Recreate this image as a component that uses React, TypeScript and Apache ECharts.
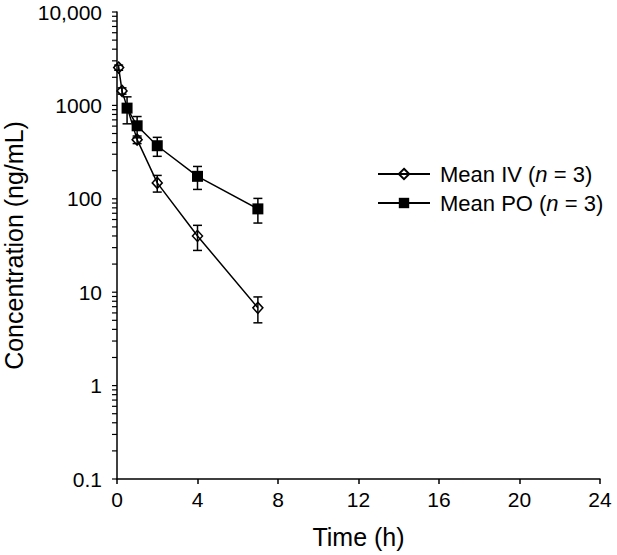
import React, { useEffect, useRef } from "react";
import * as echarts from "echarts";

const timesIV = [0.083, 0.25, 1, 2, 4, 7];
const meanIV = [2540, 1430, 430, 148, 40, 6.8];
const sdIV = [160, 110, 40, 30, 12, 2.1];

const timesPO = [0.5, 1, 2, 4, 7];
const meanPO = [935, 605, 370, 174, 78];
const sdPO = [300, 155, 85, 48, 23];

const xTicks = [0, 4, 8, 12, 16, 20, 24];
const yDecades = [0.1, 1, 10, 100, 1000];
const yMantissas = [1, 2, 3, 4, 5, 6, 7, 8, 9];
const yTopTick = 10000;
const yLabels: Record<string, string> = {
  "0.1": "0.1",
  "1": "1",
  "10": "10",
  "100": "100",
  "1000": "1000",
  "10000": "10,000",
};

const nameIV = "Mean IV (n = 3)";
const namePO = "Mean PO (n = 3)";
const FONT = "'Liberation Sans', Arial, sans-serif";

export default function App() {
  const ref = useRef<HTMLDivElement>(null);
  useEffect(() => {
    if (!ref.current) return;
    const chart = echarts.init(ref.current, undefined, { renderer: "svg" });

    const yTickValues: number[] = [];
    yDecades.forEach((d) => yMantissas.forEach((m) => yTickValues.push(+(d * m).toPrecision(3))));
    yTickValues.push(yTopTick);

    const errData = (t: number[], m: number[], s: number[]) =>
      t.map((x, i) => [x, m[i] - s[i], m[i] + s[i]]);

    const errRender = (params: any, api: any) => {
      const x = api.value(0);
      const lo = api.coord([x, api.value(1)]);
      const hi = api.coord([x, api.value(2)]);
      const w = 4.5;
      const st = { stroke: "#000", lineWidth: 1.5 };
      return {
        type: "group",
        children: [
          { type: "line", shape: { x1: lo[0], y1: lo[1], x2: hi[0], y2: hi[1] }, style: st },
          { type: "line", shape: { x1: lo[0] - w, y1: lo[1], x2: lo[0] + w, y2: lo[1] }, style: st },
          { type: "line", shape: { x1: hi[0] - w, y1: hi[1], x2: hi[0] + w, y2: hi[1] }, style: st },
        ],
      };
    };

    const richFmt = (name: string) => name.replace("(n", "({i|n}");

    chart.setOption({
      animation: false,
      backgroundColor: "#fff",
      textStyle: { fontFamily: FONT, color: "#000" },
      grid: { left: 117, right: 17, top: 12, bottom: 76, containLabel: false, outerBoundsMode: "none" },
      legend: {
        data: [nameIV, namePO],
        orient: "vertical",
        left: 372,
        top: 158,
        itemWidth: 52,
        itemHeight: 13,
        itemGap: 7,
        formatter: richFmt,
        textStyle: {
          fontFamily: FONT,
          fontSize: 22,
          color: "#000",
          padding: [0, 0, 0, 5],
          rich: { i: { fontStyle: "italic", fontSize: 22, fontFamily: FONT, color: "#000" } },
        },
      },
      xAxis: {
        type: "value",
        min: 0,
        max: 24,
        interval: 4,
        name: "Time (h)",
        nameLocation: "middle",
        nameGap: 45,
        nameTextStyle: { fontSize: 25, fontFamily: FONT, color: "#000" },
        axisLine: { show: true, onZero: false, lineStyle: { color: "#000", width: 1.5 } },
        axisTick: { show: true, inside: false, length: 5, lineStyle: { color: "#000", width: 1.5 } },
        axisLabel: {
          fontSize: 21,
          fontFamily: FONT,
          color: "#000",
          margin: 10,
          customValues: xTicks,
        },
        splitLine: { show: false },
      },
      yAxis: {
        type: "log",
        logBase: 10,
        min: 0.1,
        max: 10000,
        name: "Concentration (ng/mL)",
        nameLocation: "middle",
        nameGap: 86,
        nameTextStyle: { fontSize: 25, fontFamily: FONT, color: "#000" },
        axisLine: { show: true, onZero: false, lineStyle: { color: "#000", width: 1.5 } },
        axisTick: { show: false },
        axisLabel: {
          fontSize: 21,
          fontFamily: FONT,
          color: "#000",
          margin: 15,
          formatter: (v: number) => {
            const k = String(+v.toPrecision(3));
            return yLabels[k] ?? k;
          },
        },
        splitLine: { show: false },
      },
      series: [
        {
          type: "custom",
          name: "yticks",
          silent: true,
          clip: false,
          data: yTickValues.map((v) => [0, v]),
          renderItem: (params: any, api: any) => {
            const p = api.coord([0, api.value(1)]);
            return {
              type: "line",
              shape: { x1: p[0] - 5, y1: p[1], x2: p[0], y2: p[1] },
              style: { stroke: "#000", lineWidth: 1.2 },
            };
          },
          z: 1,
        },
        {
          type: "line",
          name: nameIV,
          data: timesIV.map((t, i) => [t, meanIV[i]]),
          symbol: "diamond",
          symbolSize: [10, 11],
          lineStyle: { color: "#000", width: 1.5 },
          itemStyle: { color: "rgba(255,255,255,0)", borderColor: "#000", borderWidth: 1.5 },
          z: 3,
        },
        {
          type: "line",
          name: namePO,
          data: timesPO.map((t, i) => [t, meanPO[i]]),
          symbol: "rect",
          symbolSize: 11,
          lineStyle: { color: "#000", width: 1.5 },
          itemStyle: { color: "#000", borderColor: "#000", borderWidth: 0 },
          z: 3,
        },
        {
          type: "custom",
          name: "errIV",
          silent: true,
          data: errData(timesIV, meanIV, sdIV),
          renderItem: errRender,
          z: 4,
        },
        {
          type: "custom",
          name: "errPO",
          silent: true,
          data: errData(timesPO, meanPO, sdPO),
          renderItem: errRender,
          z: 4,
        },
      ],
    });
    return () => chart.dispose();
  }, []);
  return (
    <div
      ref={ref}
      style={{ position: "fixed", left: 0, top: 0, width: 617, height: 555, background: "#fff" }}
    />
  );
}
